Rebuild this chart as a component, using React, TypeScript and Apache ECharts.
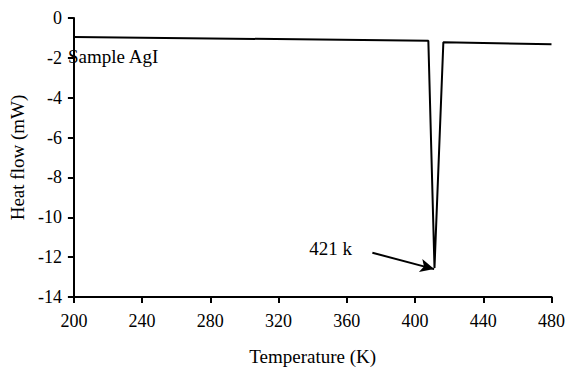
import React, { useEffect, useRef } from "react";
import * as echarts from "echarts";

const temperatures = [200, 407.8, 411.4, 416.6, 480];
const heatFlow = [-0.95, -1.14, -12.54, -1.22, -1.32];
const arrowFrom = [375, -11.78];
const arrowTo = [411.2, -12.6];
const sampleLabelAt = [223, -1.95];
const peakLabelAt = [350.5, -11.55];
const xTitle = "Temperature (K)";
const yTitle = "Heat flow (mW)";
const sampleLabel = "Sample AgI";
const peakLabel = "421 k";

const FONT = "Liberation Serif";

export default function App() {
  const ref = useRef<HTMLDivElement>(null);
  useEffect(() => {
    if (!ref.current) return;
    const chart = echarts.init(ref.current, null, { renderer: "svg" });
    chart.setOption({
      animation: false,
      backgroundColor: "#fff",
      grid: { left: 72, right: 16, top: 18, bottom: 74 },
      xAxis: {
        type: "value",
        min: 200,
        max: 480,
        interval: 40,
        name: xTitle,
        nameLocation: "middle",
        nameGap: 50,
        nameTextStyle: { fontFamily: FONT, fontSize: 19, color: "#000" },
        axisLine: { show: true, onZero: false, lineStyle: { color: "#000", width: 2 } },
        axisTick: { show: true, length: 6, lineStyle: { color: "#000", width: 2 } },
        axisLabel: { show: true, margin: 15, fontFamily: FONT, fontSize: 18, color: "#000" },
        splitLine: { show: false },
      },
      yAxis: {
        type: "value",
        min: -14,
        max: 0,
        interval: 2,
        name: yTitle,
        nameLocation: "middle",
        nameGap: 46,
        nameTextStyle: { fontFamily: FONT, fontSize: 19, color: "#000" },
        axisLine: { show: true, onZero: false, lineStyle: { color: "#000", width: 2 } },
        axisTick: { show: true, length: 6, lineStyle: { color: "#000", width: 2 } },
        axisLabel: { show: true, margin: 12, fontFamily: FONT, fontSize: 18, color: "#000" },
        splitLine: { show: false },
      },
      series: [
        {
          type: "line",
          data: temperatures.map((t, i) => [t, heatFlow[i]]),
          symbol: "none",
          lineStyle: { color: "#000", width: 2 },
          markLine: {
            silent: true,
            symbol: ["none", "arrow"],
            symbolSize: [10, 14],
            label: { show: false },
            lineStyle: { color: "#000", width: 2, type: "solid" },
            data: [[{ coord: arrowFrom }, { coord: arrowTo }]],
          },
          markPoint: {
            silent: true,
            symbol: "circle",
            symbolSize: 1,
            itemStyle: { color: "rgba(0,0,0,0)" },
            label: {
              show: true,
              position: "inside",
              fontFamily: FONT,
              fontSize: 19,
              color: "#000",
            },
            data: [
              { coord: sampleLabelAt, value: sampleLabel, label: { formatter: sampleLabel } },
              { coord: peakLabelAt, value: peakLabel, label: { formatter: peakLabel } },
            ],
          },
        },
      ],
    });
    return () => chart.dispose();
  }, []);
  return <div ref={ref} style={{ width: 568, height: 371, position: "absolute", left: 0, top: 0 }} />;
}
